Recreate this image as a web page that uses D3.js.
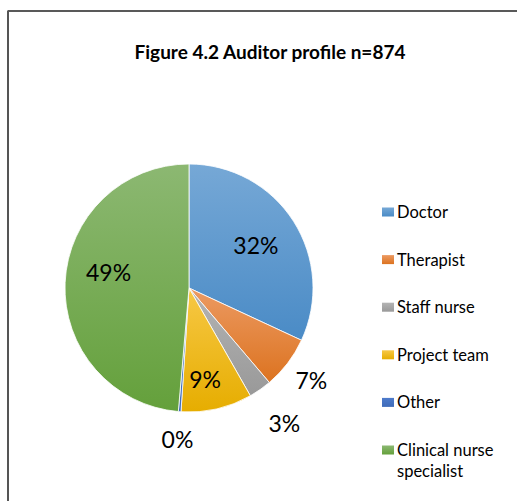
<!DOCTYPE html>
<html>
<head>
<meta charset="utf-8">
<script src="https://cdn.jsdelivr.net/npm/d3@7"></script>
<style>
  body { margin: 0; background: #fff; }
  svg text { font-family: Lato, "Open Sans", sans-serif; fill: #000; }
</style>
</head>
<body>
<svg id="chart" width="526" height="501"></svg>
<script>
// chart data
const categories = ["Doctor", "Therapist", "Staff nurse", "Project team", "Other", "Clinical nurse specialist"];
const counts = [279, 60, 26, 81, 3, 425];   // n = 874
const titleText = "Figure 4.2 Auditor profile n=874";

// colours (top / bottom of each slice gradient)
const topColors = ["#76a8d6", "#ec9a62", "#b4b4b4", "#f7c846", "#4d7bcb", "#8cb872"];
const bottomColors = ["#4a8bc6", "#dc7320", "#999999", "#e6ad00", "#3f6bb9", "#64a03b"];

// where the percent labels sit: fraction of radius, and a small angle nudge (degrees)
const labelRadius = [0.64, 1.24, 1.34, 0.75, 1.23, 0.66];
const labelNudge = [0, 0, 0, 3, 0, 8];

const svg = d3.select("#chart");
const cx = 189, cy = 288, r = 124;

// frame
svg.append("line").attr("x1", 8).attr("y1", 11).attr("x2", 517).attr("y2", 11)
  .attr("stroke", "#222").attr("stroke-width", 1.5);
svg.append("line").attr("x1", 8).attr("y1", 10.5).attr("x2", 8).attr("y2", 501)
  .attr("stroke", "#555").attr("stroke-width", 2);

// title
svg.append("text")
  .attr("x", 270).attr("y", 59)
  .attr("text-anchor", "middle")
  .style("font-size", "19px").style("font-weight", "bold")
  .text(titleText);

// gradients
let defs = svg.append("defs");
categories.forEach(function(c, i) {
  let g = defs.append("linearGradient").attr("id", "grad" + i)
    .attr("x1", 0).attr("y1", 0).attr("x2", 0).attr("y2", 1);
  g.append("stop").attr("offset", "0%").attr("stop-color", topColors[i]);
  g.append("stop").attr("offset", "100%").attr("stop-color", bottomColors[i]);
});

let total = d3.sum(counts);
let pie = d3.pie().sort(null).value(function(d) { return d; });
let arcs = pie(counts);
let arc = d3.arc().innerRadius(0).outerRadius(r);

let g = svg.append("g").attr("transform", "translate(" + cx + "," + cy + ")");

g.selectAll("path")
  .data(arcs)
  .enter().append("path")
  .attr("d", arc)
  .attr("fill", function(d, i) { return "url(#grad" + i + ")"; })
  .attr("stroke", "#fff")
  .attr("stroke-width", 0.8);

g.selectAll("text.pct")
  .data(arcs)
  .enter().append("text")
  .attr("class", "pct")
  .attr("transform", function(d, i) {
    let lr = r * labelRadius[i];
    let a = (d.startAngle + d.endAngle) / 2 + labelNudge[i] * Math.PI / 180;
    return "translate(" + (lr * Math.sin(a)) + "," + (-lr * Math.cos(a)) + ")";
  })
  .attr("text-anchor", "middle")
  .attr("dy", "0.36em")
  .style("font-size", "23px")
  .text(function(d) { return Math.round(d.value / total * 100) + "%"; });

// legend
let legY = d3.scalePoint().domain(categories).range([212, 450]);

let leg = svg.selectAll("g.leg")
  .data(categories)
  .enter().append("g")
  .attr("class", "leg")
  .attr("transform", function(d) { return "translate(382," + legY(d) + ")"; });

leg.append("rect")
  .attr("x", 0).attr("y", -4.5)
  .attr("width", 12).attr("height", 9)
  .attr("fill", function(d, i) { return "url(#grad" + i + ")"; });

leg.append("text")
  .attr("x", 15).attr("y", 6)
  .style("font-size", "16.5px")
  .each(function(d) {
    let t = d3.select(this);
    if (d == "Clinical nurse specialist") {
      t.append("tspan").attr("x", 15).text("Clinical nurse");
      t.append("tspan").attr("x", 15).attr("dy", 21).text("specialist");
    } else {
      t.text(d);
    }
  });
</script>
</body>
</html>
